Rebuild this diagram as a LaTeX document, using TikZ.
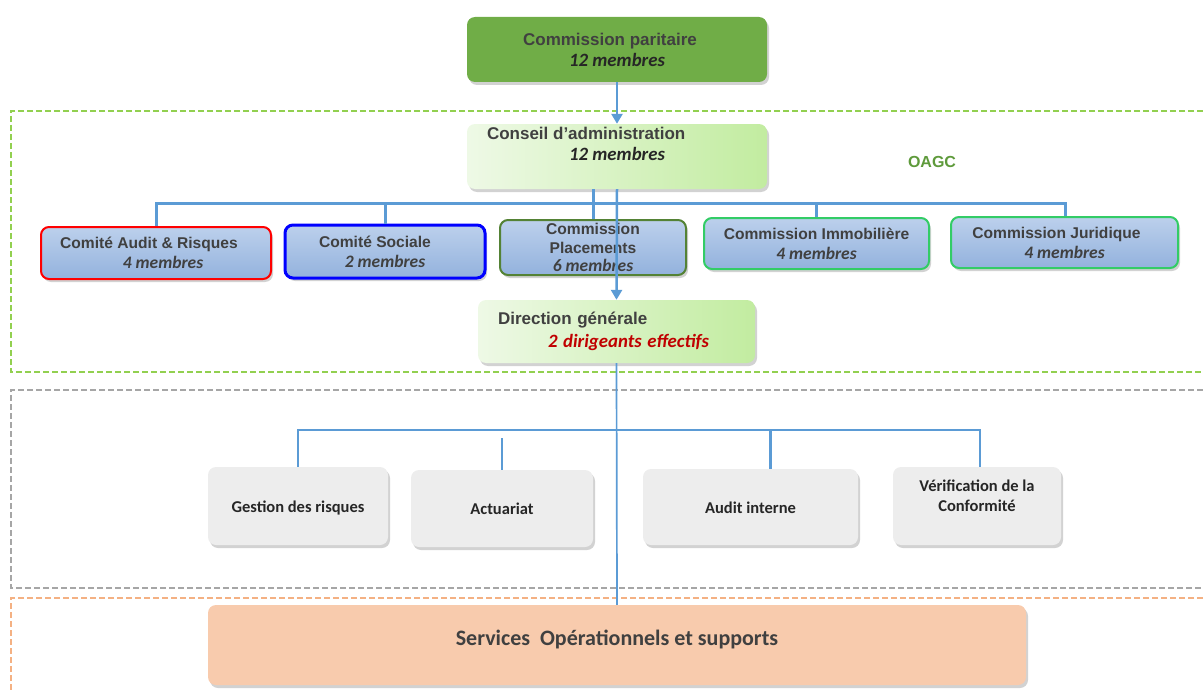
\documentclass[tikz,border=0pt]{standalone}
\usepackage{fontspec}
\setmainfont{Liberation Sans}
\newfontfamily\calibri{Carlito}
\usetikzlibrary{arrows.meta,calc,positioning,shadows}
\definecolor{Leaf}{HTML}{70AD47}
\definecolor{LeafPale}{HTML}{EEF9E6}
\definecolor{LeafLight}{HTML}{C2ECA0}
\definecolor{Sprout}{HTML}{92D050}
\definecolor{Moss}{HTML}{5E9A3B}
\definecolor{SkyTop}{HTML}{BCD0EC}
\definecolor{SkyBot}{HTML}{93B2DD}
\definecolor{Wire}{HTML}{5B9BD5}
\definecolor{Graphite}{HTML}{404040}
\definecolor{Cloud}{HTML}{EDEDED}
\definecolor{Peach}{HTML}{F8CBAD}
\definecolor{PeachLine}{HTML}{F4B183}
\definecolor{Ash}{HTML}{A6A6A6}
\definecolor{Olive}{HTML}{548235}
\definecolor{Mint}{HTML}{33CC66}
\definecolor{Crimson}{HTML}{C00000}
\newcommand{\seats}[1]{{\calibri\bfseries\itshape\fontsize{17.5}{20}\selectfont #1}}
\newcommand{\bigseats}[1]{{\calibri\bfseries\itshape\fontsize{18.8}{20}\selectfont #1}}
\tikzset{
  lifted/.style={
    drop shadow={shadow xshift=2pt, shadow yshift=-3pt, opacity=0.25, fill=black!70}
  },
  plate/.style={
    lifted, rounded corners=8pt, text=Graphite,
    font=\bfseries\fontsize{17}{21}\selectfont, inner sep=0pt
  },
  panel/.style={
    lifted, rounded corners=8pt, top color=SkyTop, bottom color=SkyBot,
    line width=2pt, align=center, text=Graphite,
    font=\bfseries\fontsize{15.6}{20}\selectfont
  },
  unit/.style={
    lifted, rounded corners=8pt, fill=Cloud, align=center, text=black!85,
    font=\calibri\bfseries\fontsize{16.5}{20}\selectfont, inner sep=0pt
  },
  frame/.style={line width=1.5pt, dash pattern=on 6pt off 3pt},
  link/.style={draw=Wire, line width=3pt},
  feed/.style={draw=Wire, line width=2.5pt, -{Triangle[length=10pt,width=11pt]}}
}
\begin{document}
\begin{tikzpicture}[x=1pt,y=-1pt]
  \useasboundingbox (0,0) rectangle (1203,693);
  % frames
  \draw[frame,draw=Sprout] (1203,111) -- (11,111) -- (11,372) -- (1203,372);
  \draw[frame,draw=Ash] (1203,390) -- (11,390) -- (11,588) -- (1203,588);
  \draw[frame,draw=PeachLine] (1203,598) -- (11,598) -- (11,693);
  % governance
  \node[plate,fill=Leaf,minimum width=300pt,minimum height=65pt,align=center] (cp) at (617,49.5)
    {\hspace*{-14pt}Commission paritaire\\{\color{black!85}\bigseats{12 membres}}};
  \node[plate,left color=LeafPale,right color=LeafLight,minimum width=300pt,minimum height=65pt] (ca) at (617,156.5)
    {\parbox[c][58pt][t]{270pt}{\hspace*{5pt}Conseil d’administration\\\hspace*{87pt}{\color{black!85}\bigseats{12 membres}}}};
  \node[font=\bfseries\fontsize{16}{18}\selectfont,text=Moss] (oagc) at (932,162) {OAGC};
  \node[panel,draw=red,minimum width=230pt,minimum height=52pt] (aud) at (156,253)
    {\hspace*{-14pt}Comité Audit \& Risques\\\hspace*{14pt}\seats{4 membres}};
  \node[panel,draw=blue,line width=3pt,minimum width=200pt,minimum height=53pt] (soc) at (385,251.5)
    {\hspace*{-20pt}Comité Sociale\\\seats{2 membres}};
  \node[panel,draw=Olive,minimum width=186pt,minimum height=55pt,inner ysep=1pt,
    font=\bfseries\fontsize{15.6}{18.5}\selectfont] (plc) at (593,247.5)
    {Commission\\Placements\\\seats{6 membres}};
  \node[panel,draw=Mint,minimum width=225pt,minimum height=51pt] (imm) at (816.5,243.5)
    {Commission Immobilière\\\seats{4 membres}};
  \node[panel,draw=Mint,minimum width=227pt,minimum height=51pt] (jur) at (1064.5,242.5)
    {\hspace*{-16pt}Commission Juridique\\\seats{4 membres}};
  \node[plate,left color=LeafPale,right color=LeafLight,minimum width=277pt,minimum height=63pt,
    text width=237pt,align=left,font=\bfseries\fontsize{17}{23}\selectfont] (dg) at (616.5,331.5)
    {Direction générale\\\hspace*{50pt}{\color{Crimson}\bigseats{2 dirigeants effectifs}}};
  % control functions
  \node[unit,minimum width=180pt,minimum height=78pt] (gr) at (298,506) {\raisebox{-2pt}[\height][\depth]{Gestion des risques}};
  \node[unit,minimum width=182pt,minimum height=77pt] (ac) at (502,508.5) {Actuariat};
  \node[unit,minimum width=215pt,minimum height=76pt] (ai) at (750.5,507) {\raisebox{-1pt}[\height][\depth]{Audit interne}};
  \node[unit,minimum width=168pt,minimum height=78pt] (vc) at (977,506)
    {\parbox[c][52pt][t]{168pt}{\centering Vérification de la\\Conformité}};
  \node[plate,fill=Peach,minimum width=818pt,minimum height=80pt,
    font=\calibri\bfseries\fontsize{22}{24}\selectfont] (svc) at (617,645)
    {\raisebox{6pt}[\height][\depth]{Services\ \ Opérationnels et supports}};
  % connectors
  \coordinate (hub1) at (593,203);
  \coordinate (hub2) at (617,430);
  \draw[link] (aud.north) |- (hub1) -| ($(jur.north)+(0.5,0)$);
  \draw[link] (soc.north) -- (soc.north |- hub1);
  \draw[link] (imm.north) -- (imm.north |- hub1);
  \draw[link] (ca.south -| plc.north) -- (plc.north);
  \draw[feed] (cp.south) -- (ca.north);
  \draw[feed] (ca.south) -- (dg.north);
  \draw[link,line width=2.6pt] (gr.north) |- (hub2) -| ($(vc.north)+(3,0)$);
  \draw[link,line width=2.6pt] (ac.north) -- ($(ac.north |- hub2)+(0,8)$);
  \draw[link,line width=2.6pt] ($(ai.north)+(20,0)$) -- ($(ai.north |- hub2)+(20,0)$);
  \draw[draw=Wire,line width=1.7pt] (dg.south) -- (svc.north);
\end{tikzpicture}
\end{document}
